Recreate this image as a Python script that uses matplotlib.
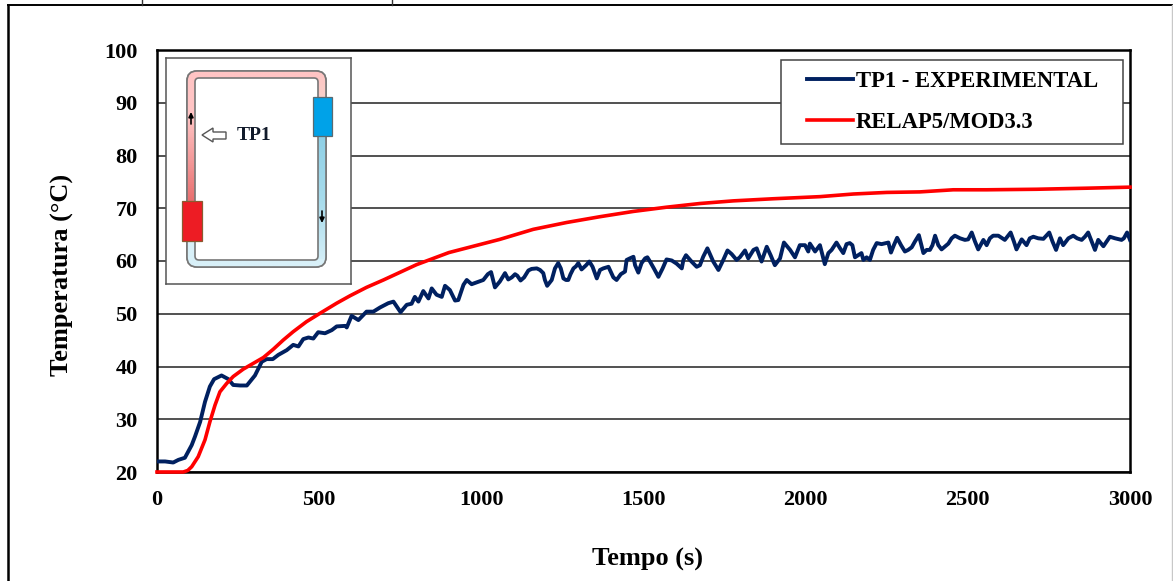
import numpy as np
import matplotlib
matplotlib.use("Agg")
import matplotlib.pyplot as plt
from matplotlib.patches import Rectangle, FancyBboxPatch, Polygon
from matplotlib.lines import Line2D
from matplotlib.colors import LinearSegmentedColormap

plt.rcParams['font.family'] = ['Liberation Serif', 'DejaVu Serif']

# ---------- data ----------
exp_time_a = [1,25,50,66,86,107,117,133,148,163,176,199,220,235,256,277,302,323,338,357,374,400,420,436,451,467,482,497,518,539,554,580,585,600,621,646,667,688,713,729,751,770,785,795,806,821,837,847,862,878,888,903,919,929,945,955,970,1006,1020,1030,1042,
1057,1073,1083,1104,1121,1145,1171,1191,1203,1217,1237,1253,1268,1284,1299,1309,1333,1356,1366,1392,1417,1443,1448,1469,1484,1505,1520,1546,1571,1602,1618,1631,1664,1674,1697,1731,1759,1787,1813,1823,1849,1864,1880,1905,1933,1967,1982,1998,2008,2013,2029,2044,
2059,2080,2095,2116,2126,2144,2152,2172,2178,2198,2219,2255,2263,2282,2306,2327,2349,2363,2383,2399,2419,2440,2460,2491,2512,2532,2548,2558,2578,2614,2632,2650,2666,2681,2702,2733,2751,2772,2784,2794,2825,2851,2871,2892,2902,2918,2938,2974,2991,3000]
exp_temp_a = [22.0,22.0,21.8,22.3,22.7,25.1,26.7,29.5,33.3,36.2,37.6,38.3,37.6,36.5,36.4,36.4,38.3,40.9,41.4,41.4,42.2,43.1,44.1,43.8,45.2,45.5,45.3,46.5,46.3,46.9,47.6,47.7,47.4,49.6,48.8,50.4,50.4,51.2,52.0,52.3,50.3,51.7,51.9,53.2,52.3,54.3,52.9,54.8,53.6,53.2,55.3,54.5,52.5,52.6,55.5,56.4,55.6,56.4,57.5,57.9,55.0,
56.1,57.7,56.5,57.5,56.3,58.2,58.6,57.7,55.3,56.4,59.6,56.7,56.4,58.6,59.6,58.4,59.9,56.7,58.3,58.9,56.4,58.0,60.2,60.8,57.8,60.5,59.9,57.0,60.3,59.5,58.6,61.1,58.9,59.2,62.4,58.3,62.0,60.2,62.0,60.5,62.4,59.9,62.7,59.2,63.5,60.7,63.0,63.0,61.8,63.3,61.8,63.0,
59.4,62.1,63.5,61.5,63.2,63.0,60.7,61.5,60.2,60.2,63.4,63.5,61.6,64.4,61.8,62.6,64.9,61.5,62.1,64.8,62.2,63.3,64.8,64.0,65.4,62.2,64.0,63.0,64.8,64.0,65.4,62.2,64.1,63.0,64.6,64.2,65.4,62.1,64.3,63.0,64.8,64.0,65.4,62.1,64.0,62.8,64.6,64.0,65.4,64.0]

exp_time_b = [1063,1094,1111,1132,1155,1181,1196,1227,1245,1261,1275,1292,1323,1343,1376,1407,1430,1458,1474,1494,1512,1532,1559,1587,1623,1648,1684,1715,1746,1772,1797,1839,1892,1921,1952,
2070,2106,2136,2162,2188,2208,2234,2272,2294,2316,2337,2373,2391,2409,2450,2476,2501,2522,2568,2594,2642,2691,2717,2761,2810,2837,2861,2882,2954,2981]
exp_temp_b = [56.7,56.9,57.2,56.9,58.5,58.3,56.4,58.6,58.6,56.4,57.5,59.0,59.2,58.9,58.6,56.9,57.5,60.5,59.2,59.6,60.7,58.6,58.6,60.1,60.2,59.9,60.8,59.9,60.2,61.3,60.7,62.1,61.1,60.5,62.1,
61.5,62.4,63.4,61.1,60.7,62.1,63.2,63.0,63.0,62.1,63.7,62.1,63.0,63.0,64.3,64.3,64.1,63.7,64.3,64.8,63.7,64.3,64.3,63.7,64.3,64.3,64.6,63.7,64.3,64.3]

sim_time = [0,81,95,107,127,148,163,179,194,215,235,266,297,328,359,389,420,461,503,554,595,646,698,800,900,1057,1160,1263,1366,1469,1571,1674,1777,1900,2044,2147,2250,2352,2455,2558,2712,2866,3000]
sim_temp = [20,20,20.3,21,22.9,26.1,29.5,32.7,35.2,36.8,38.1,39.5,40.6,41.7,43.3,45,46.6,48.5,50.1,52,53.4,55,56.4,59.3,61.6,64.1,66,67.3,68.4,69.4,70.2,70.9,71.4,71.8,72.2,72.7,73,73.1,73.5,73.5,73.6,73.8,74]

x_ticks = [0,500,1000,1500,2000,2500,3000]
y_ticks = [20,30,40,50,60,70,80,90,100]
series_names = ['TP1 - EXPERIMENTAL', 'RELAP5/MOD3.3']
x_title = 'Tempo (s)'
y_title = 'Temperatura (°C)'
inset_label = 'TP1'

order = np.argsort(np.array(exp_time_a + exp_time_b), kind='stable')
exp_time = np.array(exp_time_a + exp_time_b)[order]
exp_temp = np.array(exp_temp_a + exp_temp_b)[order]

W, H = 1173, 581
fig = plt.figure(figsize=(W/100, H/100), dpi=100)

def fx(px): return px / W
def fy(py): return 1 - py / H

# outer page frame
fig.add_artist(Line2D([fx(7.5), fx(7.5)], [fy(4.5), 0], color='black', lw=1.8))
fig.add_artist(Line2D([fx(7.5), 1], [fy(4.5), fy(4.5)], color='black', lw=1.4))
fig.add_artist(Line2D([fx(1172), fx(1172)], [fy(4.5), 0], color='#c8c8c8', lw=1))
for px in (142, 392):
    fig.add_artist(Line2D([fx(px), fx(px)], [fy(4.5), 1], color='#333333', lw=1))

# main axes
L, R, T, B = 157, 1130, 50, 472
ax = fig.add_axes([fx(L), fy(B), (R-L)/W, (B-T)/H])
ax.set_xlim(0, 3000)
ax.set_ylim(20, 100)
ax.set_xticks(x_ticks)
ax.set_yticks(y_ticks)
ax.tick_params(length=0, labelsize=16)
for lab in ax.get_xticklabels() + ax.get_yticklabels():
    lab.set_fontweight('bold')
ax.tick_params(axis='x', pad=13)
ax.tick_params(axis='y', pad=14)
ax.grid(axis='y', color='#222222', lw=1.1)
ax.set_axisbelow(True)
for s in ax.spines.values():
    s.set_linewidth(1.8)
    s.set_color('black')

l1, = ax.plot(exp_time, exp_temp, color='#002060', lw=2.8, solid_joinstyle='round', zorder=3)
l2, = ax.plot(sim_time, sim_temp, color='#ff0000', lw=2.6, zorder=4, clip_on=False)

fig.text(fx(648), fy(559), x_title, fontsize=19, fontweight='bold', ha='center', va='center')
fig.text(fx(62), fy(275), y_title, fontsize=19, fontweight='bold', rotation=90, ha='center', va='center')

# legend frame + legend
fig.add_artist(Rectangle((fx(781), fy(144)), (1123-781)/W, (144-60)/H, transform=fig.transFigure,
                         fc='white', ec='#444444', lw=1.1, zorder=5))
leg = fig.legend([l1, l2], series_names, loc='upper left',
                 bbox_to_anchor=(fx(801.5), fy(65)), bbox_transform=fig.transFigure,
                 frameon=False, handlelength=2.03, handletextpad=0.13,
                 borderpad=0.25, borderaxespad=0, labelspacing=0.88,
                 prop={'family': 'Liberation Serif', 'weight': 'bold', 'size': 16.3})
leg.set_zorder(6)

# inset schematic (drawn in page pixels)
ix0, ix1, iy0, iy1 = 166, 351, 58, 284
ins = fig.add_axes([fx(ix0), fy(iy1), (ix1-ix0)/W, (iy1-iy0)/H], zorder=4)
ins.set_xlim(ix0, ix1)
ins.set_ylim(iy1, iy0)
ins.set_xticks([]); ins.set_yticks([])
for s in ins.spines.values():
    s.set_color('#555555'); s.set_linewidth(1.1)

outer = FancyBboxPatch((194, 78), 125, 182, boxstyle='round,pad=7,rounding_size=10',
                       fc='#dddddd', ec='#777777', lw=1.2, zorder=1)
ins.add_patch(outer)

def grad(extent, colors):
    cmap = LinearSegmentedColormap.from_list('g', colors)
    im = ins.imshow(np.linspace(0, 1, 64).reshape(-1, 1), extent=extent, cmap=cmap,
                    aspect='auto', zorder=2, origin='upper')
    im.set_clip_path(outer)

grad((186, 196, 205, 70), ['#ffc4c4', '#ffc4c4', '#f39a9a', '#e86c6c'])
grad((195, 318, 79, 70), ['#ffc4c4', '#ffc4c4'])
grad((318, 328, 100, 70), ['#ffc4c4', '#f8d0c8'])
grad((318, 328, 268, 135), ['#8fd0e6', '#a8dcec', '#d8f0f8'])
grad((186, 328, 268, 259), ['#d8f0f8', '#d8f0f8'])
grad((186, 196, 268, 240), ['#d8f0f8', '#d8f0f8'])

inner = FancyBboxPatch((198, 81), 117, 176, boxstyle='round,pad=3,rounding_size=4',
                       fc='white', ec='#777777', lw=1.2, zorder=3)
ins.add_patch(inner)
outer_line = FancyBboxPatch((194, 78), 125, 182, boxstyle='round,pad=7,rounding_size=10',
                            fc='none', ec='#777777', lw=1.2, zorder=3)
ins.add_patch(outer_line)

ins.add_patch(Rectangle((182, 201), 20, 40, fc='#ed1c24', ec='#8a5a30', lw=0.9, zorder=4))
ins.add_patch(Rectangle((312.5, 97), 19.5, 39, fc='#00a2e8', ec='#5a6a70', lw=0.9, zorder=4))

ins.annotate('', xy=(191, 112), xytext=(191, 124),
             arrowprops=dict(arrowstyle='-|>', color='black', lw=1.2, mutation_scale=7,
                             shrinkA=0, shrinkB=0), zorder=5)
ins.annotate('', xy=(322, 223), xytext=(322, 211),
             arrowprops=dict(arrowstyle='-|>', color='black', lw=1.2, mutation_scale=7,
                             shrinkA=0, shrinkB=0), zorder=5)
ins.add_patch(Polygon([(202, 135), (213, 128), (213, 132), (226, 132), (226, 139), (213, 139), (213, 142)],
                      closed=True, fc='white', ec='#555555', lw=1, zorder=5))
ins.text(254, 135.5, inset_label, fontsize=14, fontweight='bold', ha='center', va='center',
         color='#111a2a', zorder=5)

fig.savefig('out.png', dpi=100)
